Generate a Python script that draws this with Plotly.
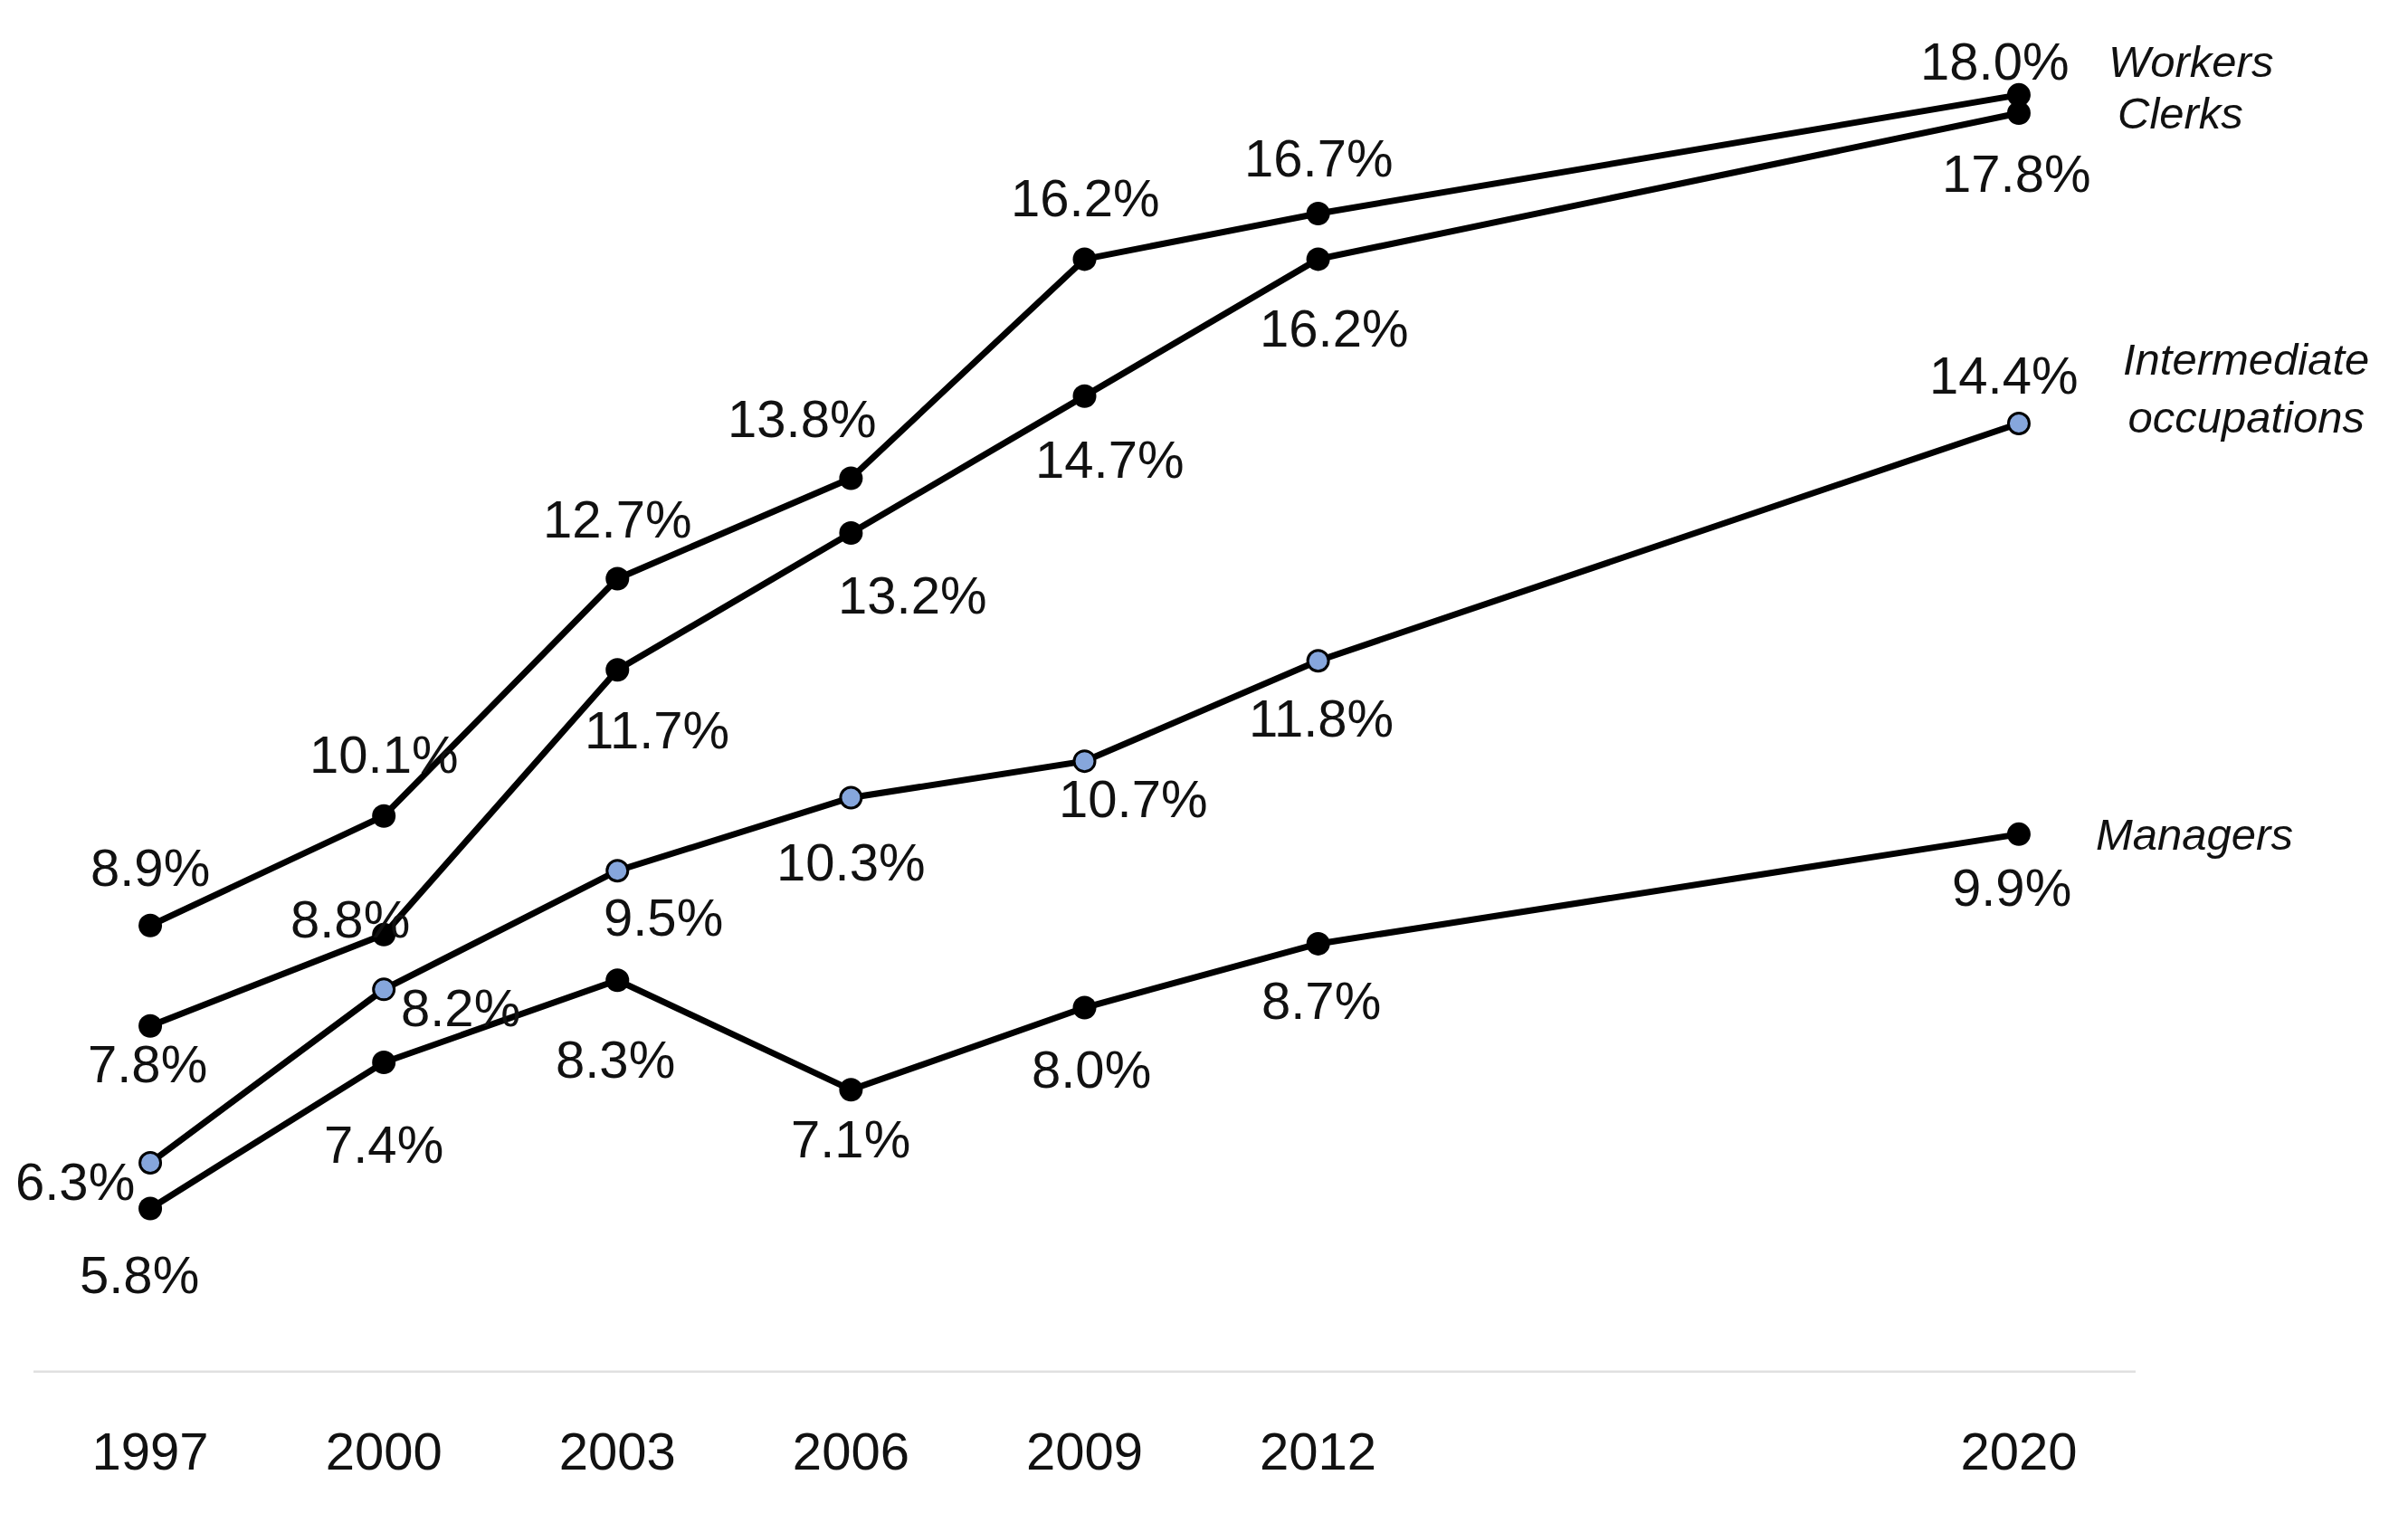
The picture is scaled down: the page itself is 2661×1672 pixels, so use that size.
import plotly.graph_objects as go

years = ["1997", "2000", "2003", "2006", "2009", "2012", "2020"]
axis_slots = ["1997", "2000", "2003", "2006", "2009", "2012", "2015", "2018", "2020"]

workers = [8.9, 10.1, 12.7, 13.8, 16.2, 16.7, 18.0]
clerks = [7.8, 8.8, 11.7, 13.2, 14.7, 16.2, 17.8]
intermediate = [6.3, 8.2, 9.5, 10.3, 10.7, 11.8, 14.4]
managers = [5.8, 7.4, 8.3, 7.1, 8.0, 8.7, 9.9]

series_names = ["Workers", "Clerks", "Intermediate<br>occupations", "Managers"]

FONT = "Liberation Sans, Arial, sans-serif"
TXT = "#111111"
NUM_SIZE = 58
NAME_SIZE = 49

# label offsets (px): (xshift, yshift) per point
off_workers = [(0, 64), (0, 68), (0, 66), (-54, 66), (0, 68), (0, 61), (-27, 37)]
off_clerks = [(-3, -42), (-37, 17), (44, -66), (68, -68), (27, -70), (17, -76), (-3, -66)]
off_inter = [(-83, -20), (85, -20), (51, -51), (0, -71), (53, -41), (3, -63), (-17, 53)]
off_managers = [(-12, -73), (0, -90), (-2, -87), (0, -54), (7, -68), (3, -63), (-8, -59)]

fig = go.Figure()

specs = [
    (workers, off_workers, "black", 26, 0),
    (clerks, off_clerks, "black", 26, 0),
    (intermediate, off_inter, "#86a6dc", 23, 3),
    (managers, off_managers, "black", 26, 0),
]

xpos = [axis_slots.index(y) for y in years]

annotations = []
for (vals, offs, mcol, msize, mlw), name in zip(specs, series_names):
    fig.add_trace(go.Scatter(
        x=xpos, y=vals, mode="lines+markers", name=name.replace("<br>", " "),
        line=dict(color="black", width=7),
        marker=dict(color=mcol, size=msize, line=dict(color="black", width=mlw)),
        showlegend=False,
    ))
    for xp, v, (dx, dy) in zip(xpos, vals, offs):
        annotations.append(dict(
            x=xp, y=v, text=f"{v:.1f}%", showarrow=False,
            xshift=dx, yshift=dy, font=dict(family=FONT, size=NUM_SIZE, color=TXT),
            xanchor="center", yanchor="middle",
        ))

# series name labels anchored at last point
name_offsets = [(97, 37, "left"), (107, 0, "left"), (251, 39, "center"), (83, 0, "left")]
for (vals, *_), name, (dx, dy, xa) in zip(specs, series_names, name_offsets):
    annotations.append(dict(
        x=xpos[-1], y=vals[-1], text=f"<i>{name}</i>", showarrow=False,
        xshift=dx, yshift=dy, xanchor=xa, yanchor="middle", align="center",
        font=dict(family=FONT, size=NAME_SIZE, color=TXT),
    ))

fig.update_layout(
    width=2661, height=1672,
    margin=dict(l=29, r=309, t=0, b=163),
    paper_bgcolor="white", plot_bgcolor="white",
    annotations=annotations,
    xaxis=dict(
        range=[-0.5, 8.5], tickvals=xpos, ticktext=years,
        showgrid=False, zeroline=False, showline=False, ticks="",
        ticklabelstandoff=48,
        tickfont=dict(family=FONT, size=NUM_SIZE, color=TXT),
    ),
    yaxis=dict(
        range=[4, 18.96], showticklabels=False, showgrid=False,
        zeroline=False, showline=False, ticks="",
    ),
    shapes=[dict(type="line", xref="paper", yref="y", x0=0, x1=1, y0=4, y1=4,
                 line=dict(color="#e0e0e0", width=5), layer="below")],
)

fig.write_html("out.html")
